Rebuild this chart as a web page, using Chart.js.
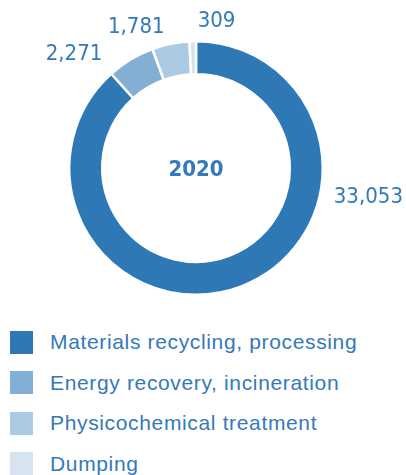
<!DOCTYPE html>
<html lang="en">
<head>
    <title>Waste disposal 2020</title>
    <script src="https://cdn.jsdelivr.net/npm/chart.js"></script>
    <style>
        body {
            margin: 0;
            background: #ffffff;
            width: 406px;
            height: 475px;
            overflow: hidden;
            font-family: 'Liberation Sans', Arial, sans-serif;
        }
        .chart-box {
            position: relative;
            width: 406px;
            height: 300px;
        }
        .legend {
            margin-top: 22px;
        }
        .legend-item {
            display: flex;
            align-items: center;
            height: 40.5px;
            color: #3479ba;
            font-size: 21px;
            letter-spacing: 0.65px;
        }
        .legend-color {
            width: 23px;
            height: 23px;
            margin-left: 10px;
            margin-right: 17px;
        }
    </style>
</head>
<body>
    <div class="chart-box"><canvas id="donut"></canvas></div>
    <div class="legend" id="legend-container"></div>

    <script>
        // datos
        const categories = ['Materials recycling, processing', 'Energy recovery, incineration', 'Physicochemical treatment', 'Dumping'];
        const values = [33053, 2271, 1781, 309];
        const centerLabel = '2020';

        const colors = ['#2e78b6', '#84afd5', '#abcbe5', '#d6e4f2'];
        const textColor = '#3479ba';
        // posicion de etiquetas: angulo (grados) y distancia extra fuera del anillo
        const labelAngle = [9.5, 223, 247, 278];
        const labelGap = [48, 40, 26, 21];
        const labelFont = "22px 'DejaVu Sans Condensed', 'Liberation Sans', sans-serif";

        const valueLabels = {
            id: 'valueLabels',
            afterDatasetsDraw(chart) {
                const c = chart.ctx;
                const arcs = chart.getDatasetMeta(0).data;
                c.save();
                c.fillStyle = textColor;
                c.textAlign = 'center';
                c.textBaseline = 'middle';
                arcs.forEach((arc, i) => {
                    const a = labelAngle[i] * Math.PI / 180;
                    const r = arc.outerRadius + labelGap[i];
                    c.font = labelFont;
                    c.fillText(values[i].toLocaleString('en-US'), arc.x + r * Math.cos(a), arc.y + r * Math.sin(a));
                });
                const first = arcs[0];
                c.font = "bold 22px 'DejaVu Sans Condensed', 'Liberation Sans', sans-serif";
                c.fillText(centerLabel, first.x, first.y + 2);
                c.restore();
            }
        };

        const ctx = document.getElementById('donut').getContext('2d');
        const chart = new Chart(ctx, {
            type: 'doughnut',
            data: {
                labels: categories,
                datasets: [{
                    data: values,
                    backgroundColor: colors,
                    borderColor: '#ffffff',
                    borderWidth: 2.5
                }]
            },
            options: {
                responsive: true,
                maintainAspectRatio: false,
                animation: false,
                cutout: '74%',
                layout: { padding: { left: 0, right: 14, top: 40, bottom: 4 } },
                plugins: {
                    legend: { display: false },
                    tooltip: { enabled: false }
                }
            },
            plugins: [valueLabels]
        });

        // leyenda
        const legendContainer = document.getElementById('legend-container');
        categories.forEach((name, i) => {
            const item = document.createElement('div');
            item.className = 'legend-item';
            item.innerHTML = `<div class="legend-color" style="background:${colors[i]};"></div><span>${name}</span>`;
            legendContainer.appendChild(item);
        });
    </script>
</body>
</html>
